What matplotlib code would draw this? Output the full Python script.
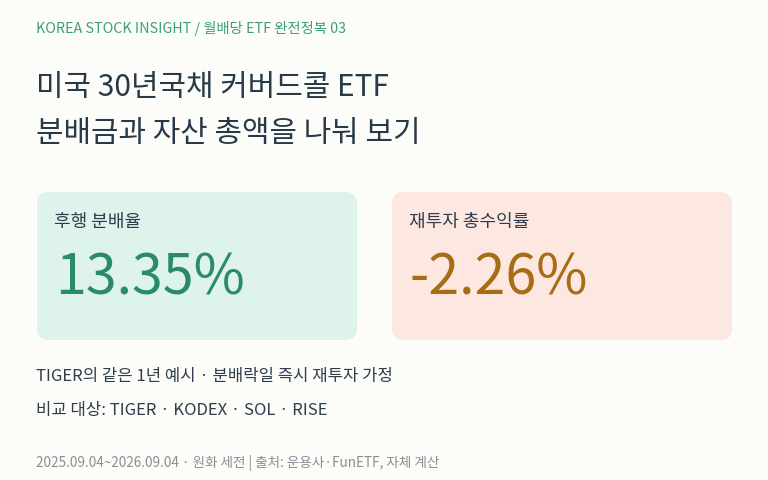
import matplotlib
matplotlib.use("Agg")
import matplotlib.pyplot as plt
from matplotlib.patches import FancyBboxPatch

plt.rcParams['font.family'] = ['Noto Sans CJK KR', 'DejaVu Sans']

card_labels = ["후행 분배율", "재투자 총수익률"]
card_values = [13.35, -2.26]
card_colors = ["#DDF3EC", "#FDE7E1"]
value_colors = ["#2A8A6C", "#A86D14"]
compare = ["TIGER", "KODEX", "SOL", "RISE"]

W, H = 768, 480
fig = plt.figure(figsize=(W/100, H/100), dpi=100)
fig.patch.set_facecolor("#FCFCF8")
ax = fig.add_axes([0, 0, 1, 1])
ax.set_xlim(0, W); ax.set_ylim(H, 0); ax.axis("off")

ax.text(36, 28, "KOREA STOCK INSIGHT / 월배당 ETF 완전정복 03", fontsize=10.3,
        color="#3F9E7F", va="center")
ax.text(36, 88, "미국 30년국채 커버드콜 ETF", fontsize=21.5, color="#283A4A", va="center")
ax.text(36, 133, "분배금과 자산 총액을 나눠 보기", fontsize=21.5, color="#283A4A", va="center")

boxes = [(37, 192, 320, 148), (392, 192, 340, 148)]
for (x, y, w, h), lab, val, cc, vc in zip(boxes, card_labels, card_values, card_colors, value_colors):
    ax.add_patch(FancyBboxPatch((x, y), w, h, boxstyle="round,pad=0,rounding_size=12",
                                fc=cc, ec="none"))
    ax.text(x + 17, 222, lab, fontsize=13, color="#2F3E4C", va="center")
    ax.text(x + 18, 279, f"{val:.2f}%", fontsize=40, color=vc, va="center",
            fontweight="light")

ax.text(36, 376, "TIGER의 같은 1년 예시 · 분배락일 즉시 재투자 가정", fontsize=12,
        color="#2F3E4C", va="center")
ax.text(36, 410, "비교 대상: " + " · ".join(compare), fontsize=12,
        color="#2F3E4C", va="center")
ax.text(36, 463, "2025.09.04~2026.09.04 · 원화 세전 | 출처: 운용사·FunETF, 자체 계산",
        fontsize=9.8, color="#8A8F94", va="center")

fig.savefig("out.png", dpi=100, facecolor=fig.get_facecolor())
